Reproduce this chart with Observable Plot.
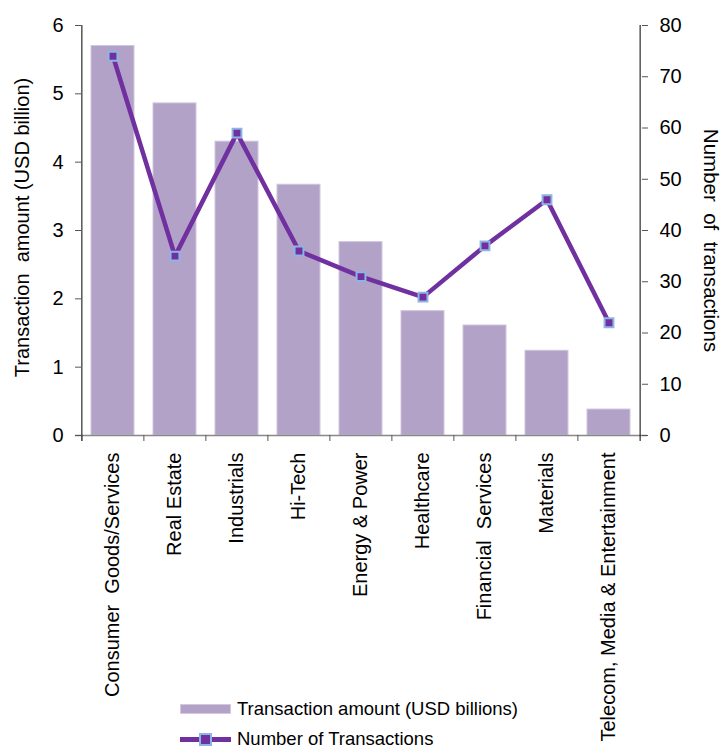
<!DOCTYPE html>
<html><head><meta charset="utf-8">
<script src="https://cdn.jsdelivr.net/npm/d3@7"></script>
<script src="https://cdn.jsdelivr.net/npm/@observablehq/plot@0.6"></script>
<style>
body{margin:0;background:#fff;font-family:"Liberation Sans",Arial,sans-serif;}
#wrap{position:relative;width:722px;height:753px;}
.legend{position:absolute;left:180px;top:694px;font-size:18.5px;color:#000;}
.row{display:flex;align-items:center;height:30px;}
.sw{width:51px;margin-right:6px;position:relative;}
.sw.bar{height:10px;background:#b3a2c7;border:1px solid #d3c9e0;box-sizing:border-box;}
.sw.line{height:5px;background:#7030a0;}
.sw.line .mk{position:absolute;left:19px;top:-4px;width:9px;height:9px;background:#7030a0;border:2px solid #8eb4e3;}
</style></head>
<body><div id="wrap"></div>
<script>
const categories = ["Consumer  Goods/Services","Real Estate","Industrials","Hi-Tech","Energy & Power","Healthcare","Financial  Services","Materials","Telecom, Media & Entertainment"];
const amounts = [5.7, 4.86, 4.3, 3.67, 2.83, 1.82, 1.61, 1.24, 0.38];
const counts = [74, 35, 59, 36, 31, 27, 37, 46, 22];
const leftTicks = [0, 1, 2, 3, 4, 5, 6];
const rightTicks = [0, 10, 20, 30, 40, 50, 60, 70, 80];
const leftLabel = "Transaction  amount (USD billion)";
const rightLabel = "Number  of  transactions";
const legendBar = "Transaction amount (USD billions)";
const legendLine = "Number of Transactions";

const data = categories.map((c, i) => ({cat: c, amount: amounts[i], count: counts[i]}));
const k = 6 / 80;
const W = 722, H = 753, mL = 81, mR = 81, mT = 25, mB = 318;
const step = (W - mL - mR) / categories.length;

const chart = Plot.plot({
  width: W, height: H,
  marginLeft: mL, marginRight: mR, marginTop: mT, marginBottom: mB,
  style: {fontFamily: '"Liberation Sans", Arial, sans-serif', color: "#000", background: "#fff"},
  x: {domain: categories, paddingInner: 0.3, paddingOuter: 0.15},
  y: {domain: [0, 6]},
  marks: [
    Plot.barY(data, {x: "cat", y: "amount", fill: "#b3a2c7", stroke: "#d0c6dd", strokeWidth: 1}),
    Plot.ruleY([0], {stroke: "#888", strokeWidth: 1.5, insetLeft: -6, insetRight: -6}),
    Plot.ruleX([categories[0]], {dx: -step / 2, stroke: "#000", insetBottom: -6}),
    Plot.ruleX([categories[categories.length - 1]], {dx: step / 2, stroke: "#000", insetBottom: -6}),
    Plot.axisY({ticks: leftTicks, tickSize: 6, tickPadding: 12, fontSize: 20, tickFormat: d => String(d), label: null, stroke: "#555"}),
    Plot.axisY({anchor: "right", ticks: rightTicks.map(v => v * k), tickFormat: d => String(Math.round(d / k)), tickSize: 6, tickPadding: 12, fontSize: 20, label: null, stroke: "#555"}),
    Plot.axisX({ticks: categories, tickSize: 6, tickFormat: () => "", dx: -step / 2, label: null, stroke: "#555"}),
    Plot.axisX({tickSize: 0, tickPadding: 17, tickRotate: -90, fontSize: 20, label: null}),
    Plot.line(data, {x: "cat", y: d => d.count * k, stroke: "#7030a0", strokeWidth: 4.5}),
    Plot.dot(data, {x: "cat", y: d => d.count * k, symbol: "square", r: 5, fill: "#7030a0", stroke: "#8eb4e3", strokeWidth: 2}),
    Plot.text([leftLabel], {frameAnchor: "left", textAnchor: "middle", dx: -59, dy: -3, rotate: -90, fontSize: 20}),
    Plot.text([rightLabel], {frameAnchor: "right", textAnchor: "middle", dx: 69, dy: 10, rotate: 90, fontSize: 20.5})
  ]
});
const wrap = document.getElementById("wrap");
wrap.appendChild(chart);
const lg = document.createElement("div");
lg.className = "legend";
lg.innerHTML = `<div class="row"><div class="sw bar"></div><span>${legendBar}</span></div>
<div class="row"><div class="sw line"><div class="mk"></div></div><span>${legendLine}</span></div>`;
wrap.appendChild(lg);
</script></body></html>
